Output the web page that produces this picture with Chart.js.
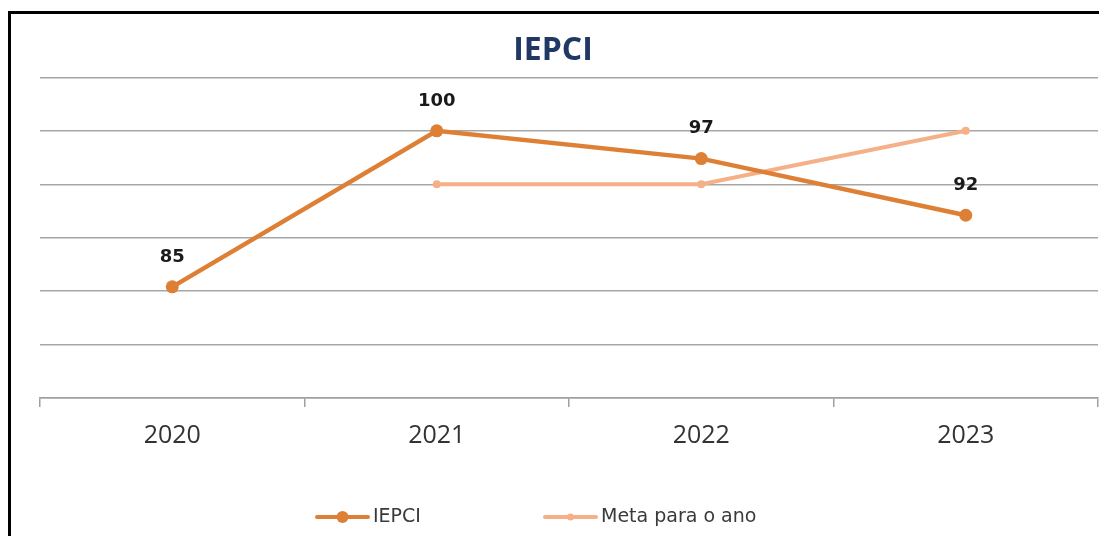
<!DOCTYPE html>
<html lang="pt">
<head>
<meta charset="UTF-8" />
<title>IEPCI</title>
<script src="https://cdn.jsdelivr.net/npm/chart.js@4.4.0/dist/chart.umd.min.js"></script>
<style>
  html, body { margin: 0; padding: 0; background: #fff; overflow: hidden; }
  .frame { position: absolute; left: 8px; top: 11px; width: 2000px; height: 2000px; border: 3px solid #000; }
  .wrap { position: absolute; left: 0; top: 0; width: 1099px; height: 536px; }
</style>
</head>
<body>
<div class="frame"></div>
<div class="wrap"><canvas id="chart" width="1099" height="536"></canvas></div>
<script>
const anos = ["2020", "2021", "2022", "2023"];
const iepci = [85.4, 100, 97.4, 92.1];
const meta = [null, 95, 95, 100];

const COR_IEPCI = "#DD8036";
const COR_META = "#F6B088";

// rótulos de dados acima dos pontos do IEPCI
const rotulos = {
  id: "rotulos",
  afterDatasetsDraw(chart) {
    const ctx = chart.ctx;
    const meta0 = chart.getDatasetMeta(0);
    ctx.save();
    ctx.font = "bold 18px 'DejaVu Sans'";
    ctx.fillStyle = "#1a1a1a";
    ctx.textAlign = "center";
    ctx.textBaseline = "middle";
    meta0.data.forEach((pt, i) => {
      ctx.fillText(String(Math.round(iepci[i])), pt.x, pt.y - 30);
    });
    ctx.restore();
  },
};

// legenda desenhada à mão: linha com marcador
const legenda = {
  id: "legenda",
  afterDraw(chart) {
    const ctx = chart.ctx;
    const y = 517;
    const itens = [
      { x: 317, texto: "IEPCI", cor: COR_IEPCI, r: 6 },
      { x: 545, texto: "Meta para o ano", cor: COR_META, r: 3.5 },
    ];
    ctx.save();
    itens.forEach(it => {
      ctx.strokeStyle = it.cor;
      ctx.lineWidth = 4;
      ctx.lineCap = "round";
      ctx.beginPath();
      ctx.moveTo(it.x, y);
      ctx.lineTo(it.x + 51, y);
      ctx.stroke();
      ctx.fillStyle = it.cor;
      ctx.beginPath();
      ctx.arc(it.x + 25.5, y, it.r, 0, Math.PI * 2);
      ctx.fill();
      ctx.fillStyle = "#3a3a3a";
      ctx.font = "19px 'DejaVu Sans'";
      ctx.textAlign = "left";
      ctx.textBaseline = "middle";
      ctx.fillText(it.texto, it.x + 56, y);
    });
    ctx.restore();
  },
};

new Chart(document.getElementById("chart"), {
  type: "line",
  data: {
    labels: anos,
    datasets: [
      {
        label: "IEPCI",
        data: iepci,
        borderColor: COR_IEPCI,
        backgroundColor: COR_IEPCI,
        borderWidth: 4.5,
        pointRadius: 6.5,
        pointHoverRadius: 6.5,
        pointBorderWidth: 0,
        tension: 0,
      },
      {
        label: "Meta para o ano",
        data: meta,
        borderColor: COR_META,
        backgroundColor: COR_META,
        borderWidth: 4,
        pointRadius: 4,
        pointHoverRadius: 4,
        pointBorderWidth: 0,
        tension: 0,
      },
    ],
  },
  options: {
    responsive: false,
    animation: false,
    events: [],
    layout: { autoPadding: false, padding: { left: 8, right: 1, top: 0, bottom: 0 } },
    plugins: {
      legend: { display: false },
      tooltip: { enabled: false },
      title: {
        display: true,
        text: "IEPCI",
        color: "#1F3864",
        font: { family: "'Open Sans'", size: 32, weight: "bold", lineHeight: 1.2 },
        padding: { top: 32, bottom: 7 },
      },
    },
    scales: {
      x: {
        offset: true,
        afterFit(s) { s.height = 138; },
        grid: { offset: true, drawOnChartArea: false, drawTicks: true, tickLength: 9, color: "#a0a0a0", lineWidth: 1.5 },
        border: { display: true, color: "#a0a0a0", width: 1.5 },
        ticks: { color: "#333333", font: { family: "'Open Sans'", size: 25 }, padding: 14, maxRotation: 0 },
      },
      y: {
        min: 75,
        max: 105,
        afterFit(s) { s.width = 32; },
        ticks: { display: false, stepSize: 5 },
        grid: { color: "#a6a6a6", lineWidth: 1.5, drawTicks: false },
        border: { display: false },
      },
    },
  },
  plugins: [rotulos, legenda],
});
</script>
</body>
</html>
